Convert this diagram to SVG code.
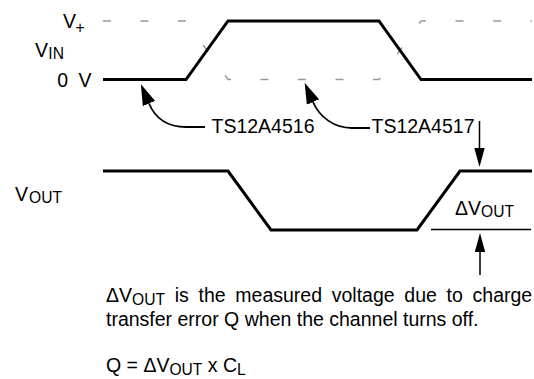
<svg xmlns="http://www.w3.org/2000/svg" width="534" height="379" viewBox="0 0 534 379">
<style>
text{font-family:"Liberation Sans",Arial,Helvetica,sans-serif;font-size:19.5px;fill:#000}
.sub{font-size:15.6px}
.wave{fill:none;stroke:#000;stroke-width:3;stroke-linejoin:miter}
.dash{fill:none;stroke:#999;stroke-width:1.5;stroke-dasharray:8 29.5}
.lead{fill:none;stroke:#000;stroke-width:1.8}
.vline{fill:none;stroke:#000;stroke-width:1.5}
</style>
<defs>
<marker id="ahCurve" markerUnits="userSpaceOnUse" viewBox="0 -7 21 14" refX="0" refY="0" markerWidth="21" markerHeight="14" orient="auto">
<path d="M0,-6.7 L21,0 L0,6.7 Z" fill="#000"/>
</marker>
<marker id="ahVert" markerUnits="userSpaceOnUse" viewBox="0 -5.5 19 11" refX="0" refY="0" markerWidth="19" markerHeight="11" orient="auto">
<path d="M0,-5.2 L19,0 L0,5.2 Z" fill="#000"/>
</marker>
</defs>

<g id="labels">
<text x="63" y="28.3">V<tspan class="sub" x="75.5" y="32.5">+</tspan></text>
<text x="35" y="56.7">V<tspan class="sub" x="48.3" y="58.7">IN</tspan></text>
<text x="91.5" y="86.5" text-anchor="end" font-size="18.5" word-spacing="5">0 V</text>
<text x="15" y="201">V<tspan class="sub" x="29" y="203">OUT</tspan></text>
</g>

<g id="vin-waveform">
<path class="dash" d="M103,21 L186,21 L228,79.5 L379,79.5 L421,21 L532,21"/>
<path class="wave" d="M103,79.5 L186,79.5 L228,21 L379,21 L421,79.5 L532,79.5"/>
</g>

<g id="vout-waveform">
<path class="wave" d="M103,171 L228,171 L271,230 L417,230 L460,171 L532,171"/>
</g>

<g id="node-ts12a4516">
<text x="211.5" y="132.7">TS12A4516</text>
</g>
<g id="node-ts12a4517">
<text x="371.5" y="133">TS12A4517</text>
</g>
<g id="node-delta-vout">
<text x="455" y="215">ΔV<tspan class="sub" dy="1.5">OUT</tspan></text>
<line class="vline" x1="431" y1="229.5" x2="531" y2="229.5" stroke-width="1"/>
</g>

<g id="connectors">
<path class="lead" marker-end="url(#ahCurve)" d="M205,127 L186,127 C168,127 155.5,119 149,103.5"/>
<path class="lead" marker-end="url(#ahCurve)" d="M370,128 L352,128 C334,128 319.5,117 313,102"/>
<path class="vline" marker-end="url(#ahVert)" d="M479.5,121 L479.5,148"/>
<path class="vline" marker-end="url(#ahVert)" d="M480,275 L480,252"/>
</g>

<g id="caption">
<text x="106" y="302" word-spacing="4.3">ΔV<tspan class="sub" dy="3">OUT</tspan><tspan dy="-3"> is the measured voltage due to charge</tspan></text>
<text x="106" y="325.5">transfer error Q when the channel turns off.</text>
<text x="106" y="372">Q = ΔV<tspan class="sub" dy="2.5">OUT</tspan><tspan dy="-2.5"> x C</tspan><tspan class="sub" dy="2.5">L</tspan></text>
</g>
</svg>
